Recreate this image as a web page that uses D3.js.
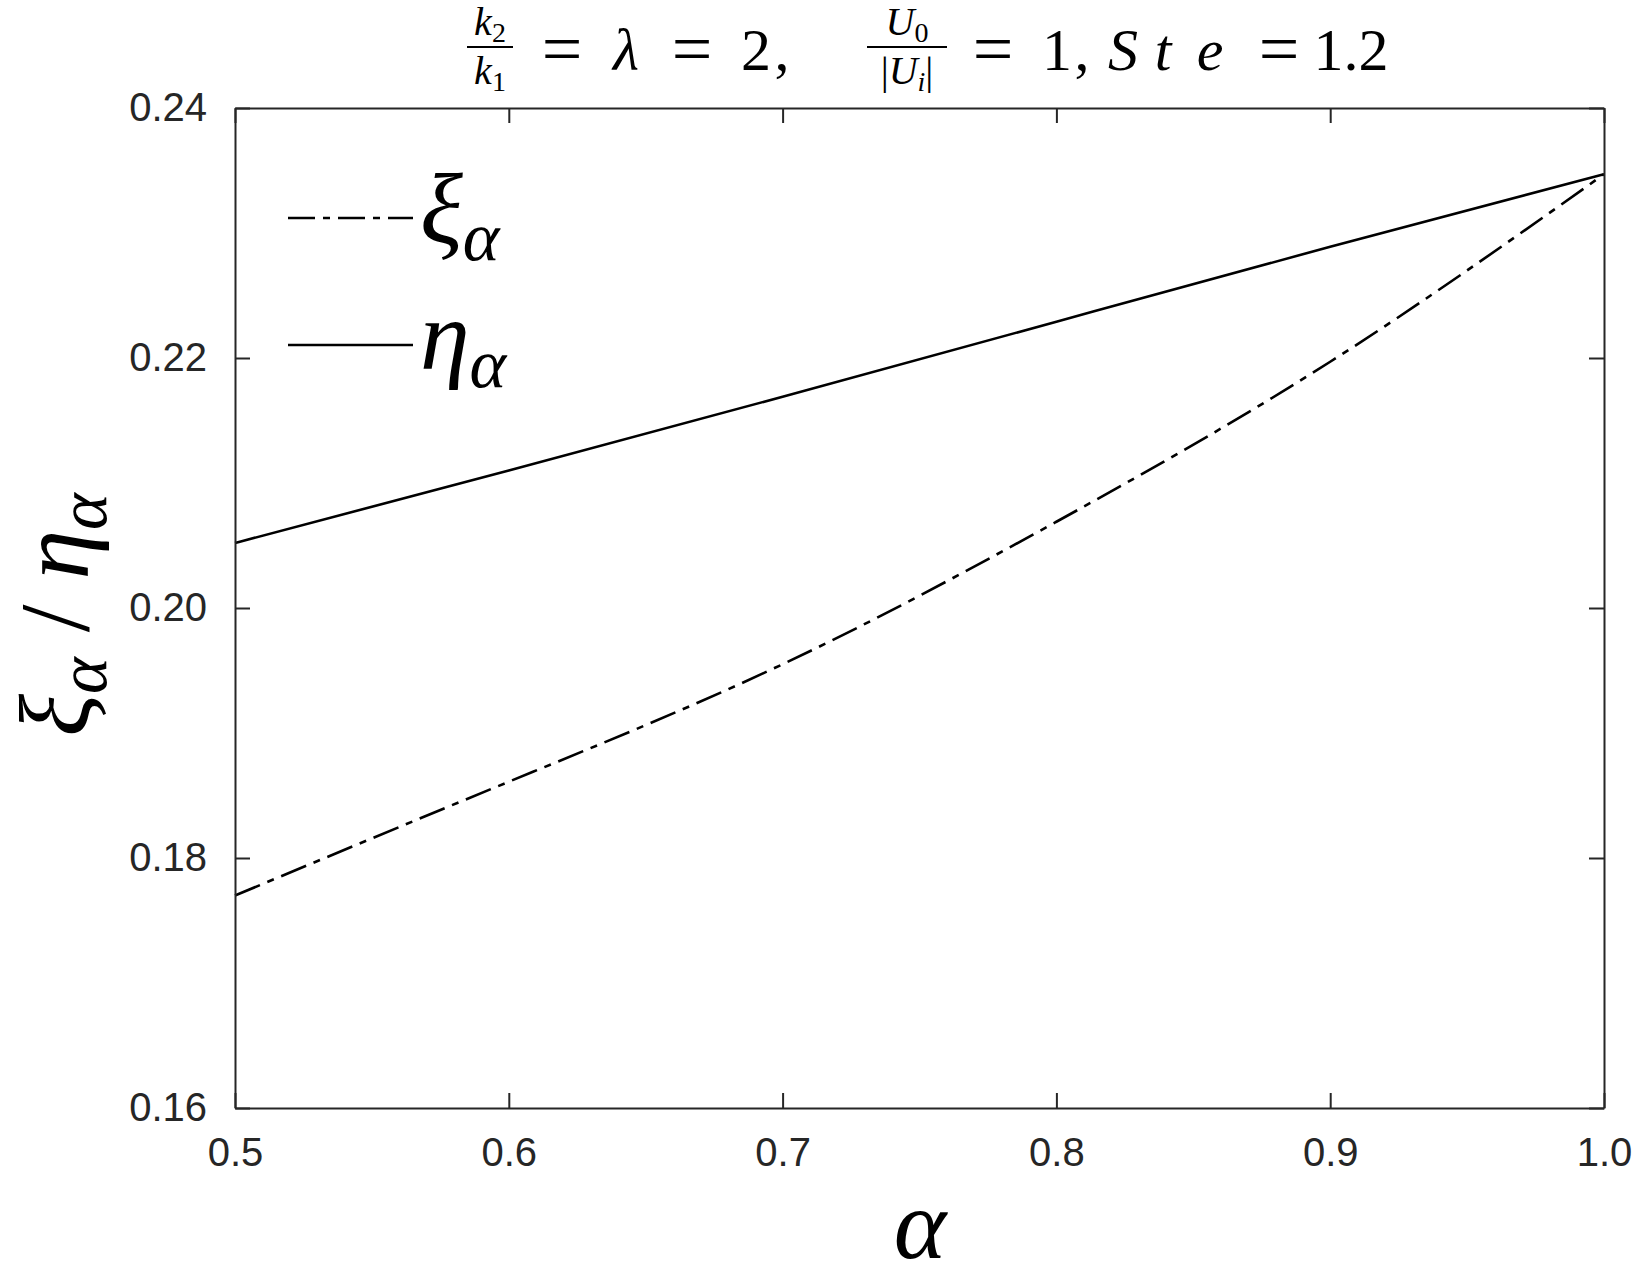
<!DOCTYPE html>
<html>
<head>
<meta charset="utf-8">
<script src="https://cdn.jsdelivr.net/npm/d3@7"></script>
<style>
  body { margin: 0; background: #fff; }
  svg { display: block; }
</style>
</head>
<body>
<svg id="chart"></svg>
<script>
const alphaValues = [0.5, 0.6, 0.7, 0.8, 0.9, 1.0];
const xiValues = [0.1770, 0.1861, 0.1955, 0.2069, 0.2197, 0.2347];
const etaValues = [0.2052, 0.2110, 0.2169, 0.2229, 0.2289, 0.2347];
const xTicks = [0.5, 0.6, 0.7, 0.8, 0.9, 1.0];
const yTicks = [0.16, 0.18, 0.20, 0.22, 0.24];

const width = 1633, height = 1275;
const margin = {top: 108, right: 29, bottom: 167, left: 235};
const axisColor = '#262626';
const mathFont = '"Liberation Serif", "Times New Roman", "DejaVu Serif", serif';

const svg = d3.select('#chart')
    .attr('width', width)
    .attr('height', height);

const x = d3.scaleLinear().domain([0.5, 1.0]).range([margin.left, width - margin.right]);
const y = d3.scaleLinear().domain([0.16, 0.24]).range([height - margin.bottom, margin.top]);

// curves
const series = [
    {name: 'xi', values: xiValues, dash: '27,8,7,8'},
    {name: 'eta', values: etaValues, dash: null}
];

const line = d3.line()
    .x(d => x(d[0]))
    .y(d => y(d[1]))
    .curve(d3.curveNatural);

svg.selectAll('path.series')
    .data(series)
    .enter()
    .append('path')
    .attr('class', 'series')
    .attr('d', s => line(alphaValues.map((a, i) => [a, s.values[i]])))
    .attr('fill', 'none')
    .attr('stroke', '#000')
    .attr('stroke-width', 2.6)
    .attr('stroke-dasharray', s => s.dash);

// axes, ticks pointing inward on all four sides
function styleAxis(g) {
    g.select('.domain').attr('stroke', axisColor).attr('stroke-width', 2);
    g.selectAll('.tick line').attr('stroke', axisColor).attr('stroke-width', 2);
    g.selectAll('.tick text')
        .attr('fill', axisColor)
        .style('font-family', '"Liberation Sans", Arial, sans-serif')
        .style('font-size', '40px');
}

svg.append('g')
    .attr('transform', `translate(0,${height - margin.bottom})`)
    .call(d3.axisBottom(x).tickValues(xTicks).tickSize(-15).tickSizeOuter(0).tickPadding(30).tickFormat(d3.format('.1f')))
    .call(styleAxis);

svg.append('g')
    .attr('transform', `translate(0,${margin.top})`)
    .call(d3.axisTop(x).tickValues(xTicks).tickSize(-15).tickSizeOuter(0).tickFormat(''))
    .call(styleAxis);

svg.append('g')
    .attr('transform', `translate(${margin.left},0)`)
    .call(d3.axisLeft(y).tickValues(yTicks).tickSize(-15).tickSizeOuter(0).tickPadding(28).tickFormat(d3.format('.2f')))
    .call(styleAxis);

svg.append('g')
    .attr('transform', `translate(${width - margin.right},0)`)
    .call(d3.axisRight(y).tickValues(yTicks).tickSize(-15).tickSizeOuter(0).tickFormat(''))
    .call(styleAxis);

// math text helper: parts = [text, italic, sub]
function mathText(parent, px, py, size, parts, anchor) {
    const t = parent.append('text')
        .attr('x', px)
        .attr('y', py)
        .attr('text-anchor', anchor || 'start')
        .attr('fill', '#000')
        .style('font-family', mathFont)
        .style('font-size', size + 'px');
    let lowered = false;
    parts.forEach(p => {
        const ts = t.append('tspan').text(p[0])
            .style('font-family', mathFont)
            .style('font-style', p[1] ? 'italic' : 'normal');
        if (p[2]) {
            ts.style('font-size', Math.round(size * 0.7) + 'px').attr('dy', size * 0.18);
            lowered = true;
        } else if (lowered) {
            ts.attr('dy', -size * 0.18);
            lowered = false;
        }
    });
    return t;
}

// legend
const legend = svg.append('g');
const legendItems = [
    {dash: '27,8,7,8', ly: 218, sym: 'ξ', base: 242},
    {dash: null, ly: 345, sym: 'η', base: 369}
];
legendItems.forEach(item => {
    legend.append('line')
        .attr('x1', 288).attr('x2', 413)
        .attr('y1', item.ly).attr('y2', item.ly)
        .attr('stroke', '#000')
        .attr('stroke-width', 2.6)
        .attr('stroke-dasharray', item.dash);
    mathText(legend, 420, item.base, 100, [[item.sym, true], ['α', true, true]]);
});

// title
const title = svg.append('g');
function frac(cx, num, den, size, barW) {
    mathText(title, cx, 35, size, num, 'middle');
    title.append('line')
        .attr('x1', cx - barW / 2).attr('x2', cx + barW / 2)
        .attr('y1', 47).attr('y2', 47)
        .attr('stroke', '#000').attr('stroke-width', 2);
    mathText(title, cx, 84, size, den, 'middle');
}
frac(490, [['k', true], ['2', false, true]], [['k', true], ['1', false, true]], 40, 46);
frac(907, [['U', true], ['0', false, true]], [['|', false], ['U', true], ['i', true, true], ['|', false]], 40, 80);
const titlePieces = [
    ['=', false, 562], ['λ', true, 626], ['=', false, 692], ['2', false, 756], [',', false, 782],
    ['=', false, 993], ['1', false, 1057], [',', false, 1082],
    ['S', true, 1123], ['t', true, 1163], ['e', true, 1210],
    ['=', false, 1279], ['1.2', false, 1351]
];
titlePieces.forEach(p => {
    const t = mathText(title, p[2], 70, 60, [[p[0], p[1]]], 'middle');
    if (p[0] === '=') t.style('font-size', '72px').attr('y', 73);
});

// axis labels
mathText(svg, 920, 1258, 100, [['α', true]], 'middle');

const yLabel = svg.append('g').attr('transform', 'translate(88,615) rotate(-90)');
mathText(yLabel, 0, 0, 100, [['ξ', true], ['α', true, true], [' / ', false], ['η', true], ['α', true, true]], 'middle');
</script>
</body>
</html>
